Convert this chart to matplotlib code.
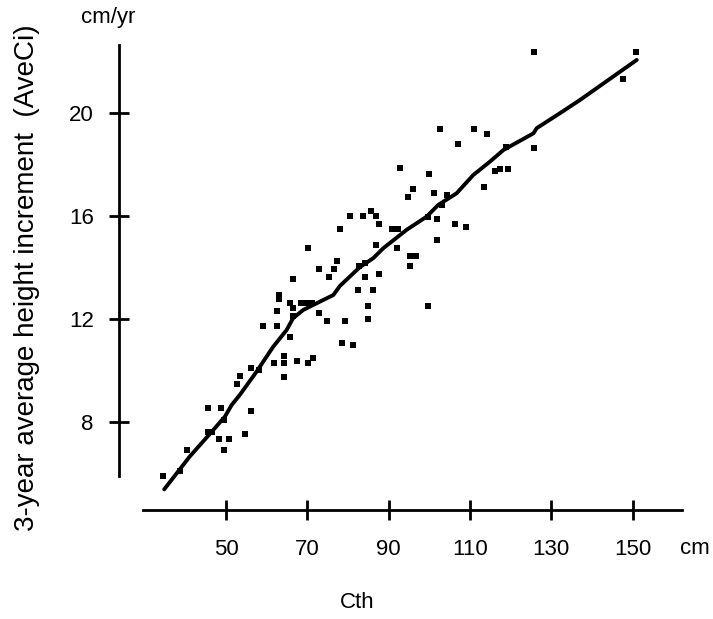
import matplotlib
matplotlib.use('Agg')
import matplotlib.pyplot as plt

# Cth (cm) vs 3-year average height increment (cm/yr)
cth = [34.6, 38.7, 40.5, 45.6, 48.8, 45.6, 46.5, 48.3, 50.8, 49.6,
       49.6, 54.7, 56.1, 52.8, 53.4, 56.1, 58.0, 59.2, 62.5, 61.9,
       64.3, 64.3, 64.3, 67.5, 70.2, 71.5, 62.5, 63.1, 63.1, 65.7,
       66.4, 66.4, 65.7, 68.4, 69.8, 71.1, 72.9, 74.8, 66.4, 70.2,
       72.9, 75.3, 76.6, 77.4, 78.0, 79.3, 78.6, 81.2, 80.5, 83.8,
       85.7, 87.0, 87.6, 82.4, 82.8, 84.2, 84.3, 86.2, 85.0, 85.0,
       87.6, 87.0, 90.7, 92.4, 92.1, 94.8, 96.1, 101.2, 101.8, 101.8,
       95.2, 96.6, 95.2, 99.7, 99.7, 92.8, 99.8, 102.5, 104.3, 103.0,
       106.3, 109.0, 107.0, 111.1, 114.1, 113.5, 116.1, 117.4, 119.4, 118.8,
       125.8, 125.7, 147.5, 150.8]
aveci = [5.90, 6.11, 6.91, 8.56, 8.56, 7.62, 7.62, 7.33, 7.33, 6.91,
         8.08, 7.53, 8.44, 9.48, 9.79, 10.09, 10.0, 11.73, 11.73, 10.28,
         10.56, 10.28, 9.76, 10.38, 10.28, 10.47, 12.32, 12.93, 12.77, 12.63,
         12.41, 12.12, 11.29, 12.63, 12.63, 12.63, 12.22, 11.92, 13.55, 14.77,
         13.95, 13.64, 13.95, 14.26, 15.48, 11.92, 11.08, 10.99, 16.0, 16.0,
         16.19, 16.0, 15.68, 13.13, 14.06, 14.16, 13.64, 13.13, 12.50, 12.0,
         13.75, 14.87, 15.48, 15.48, 14.75, 16.73, 17.04, 16.91, 15.88, 15.07,
         14.45, 14.45, 14.06, 12.50, 15.97, 17.85, 17.63, 19.38, 16.82, 16.43,
         15.68, 15.58, 18.78, 19.38, 19.17, 17.11, 17.75, 17.83, 17.83, 18.67,
         18.65, 22.38, 21.32, 22.36]

# smoothed trend line
trend_x = [34.8, 41.1, 46.5, 49.75, 51.4, 53.4, 57.5, 61.6, 64.9, 66.5,
           69.0, 72.3, 76.4, 78.0, 82.9, 86.2, 88.7, 94.4, 99.3, 102.2,
           106.7, 110.8, 114.9, 118.2, 125.6, 126.4, 132.1, 137.0, 151.0]
trend_y = [5.38, 6.66, 7.62, 8.21, 8.66, 9.05, 9.95, 10.92, 11.57, 12.03,
           12.35, 12.61, 12.93, 13.28, 14.01, 14.36, 14.75, 15.46, 15.97, 16.43,
           16.88, 17.59, 18.11, 18.56, 19.21, 19.41, 19.99, 20.5, 22.06]

xticks = [50, 70, 90, 110, 130, 150]
yticks = [8, 12, 16, 20]

plt.rcParams['font.family'] = ['Liberation Sans', 'DejaVu Sans']

W, H = 713, 619
fig = plt.figure(figsize=(W / 100, H / 100), dpi=100)
ax = fig.add_axes([118.7 / W, (H - 510) / H, (681.7 - 118.7) / W, (510 - 45) / H])

ax.scatter(cth, aveci, marker='s', s=15, color='black', linewidths=0)
ax.plot(trend_x, trend_y, color='black', lw=2.8, solid_capstyle='round')

ax.set_xlim(23.62, 162.05)
ax.set_ylim(4.58, 22.64)

for s in ['top', 'right']:
    ax.spines[s].set_visible(False)
ax.spines['left'].set_bounds(5.9, 22.64)
ax.spines['bottom'].set_bounds(29.5, 162.05)
for s in ['left', 'bottom']:
    ax.spines[s].set_linewidth(2)

ax.set_xticks(xticks)
ax.set_yticks(yticks)
ax.tick_params(axis='both', direction='inout', length=14, width=2, labelsize=16)
ax.tick_params(axis='x', pad=14)
ax.tick_params(axis='y', pad=11)

fig.text(108 / W, 1 - 18 / H, 'cm/yr', ha='center', va='center', fontsize=16)
fig.text(695 / W, 1 - 548 / H, 'cm', ha='center', va='center', fontsize=16)
fig.text(357 / W, 1 - 602 / H, 'Cth', ha='center', va='center', fontsize=16)
fig.text(27 / W, 1 - 278 / H, '3-year average height increment  (AveCi)',
         rotation=90, ha='center', va='center', fontsize=20)

fig.savefig('out.png', dpi=100)
